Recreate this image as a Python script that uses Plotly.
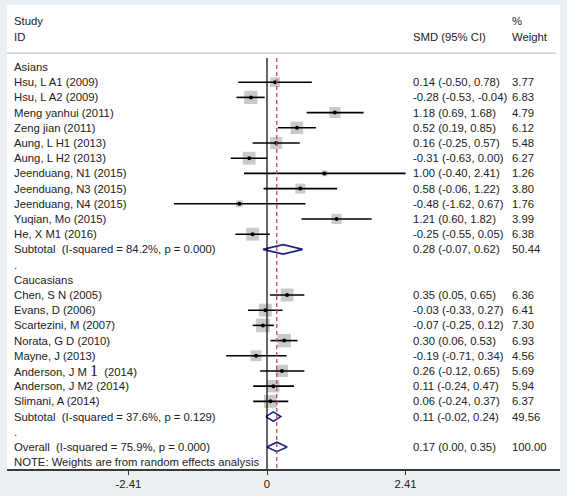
import plotly.graph_objects as go

# ---------------- data ----------------
asian_ids = ["Hsu, L A1 (2009)", "Hsu, L A2 (2009)", "Meng yanhui (2011)", "Zeng jian (2011)",
             "Aung, L H1 (2013)", "Aung, L H2 (2013)", "Jeenduang, N1 (2015)", "Jeenduang, N3 (2015)",
             "Jeenduang, N4 (2015)", "Yuqian, Mo (2015)", "He, X M1 (2016)"]
asian_smd = [0.14, -0.28, 1.18, 0.52, 0.16, -0.31, 1.00, 0.58, -0.48, 1.21, -0.25]
asian_lo = [-0.50, -0.53, 0.69, 0.19, -0.25, -0.63, -0.40, -0.06, -1.62, 0.60, -0.55]
asian_hi = [0.78, -0.04, 1.68, 0.85, 0.57, 0.00, 2.41, 1.22, 0.67, 1.82, 0.05]
asian_w = [3.77, 6.83, 4.79, 6.12, 5.48, 6.27, 1.26, 3.80, 1.76, 3.99, 6.38]

cauc_ids = ["Chen, S N (2005)", "Evans, D (2006)", "Scartezini, M (2007)", "Norata, G D (2010)",
            "Mayne, J (2013)",
            "Anderson, J M <span style='font-family:Liberation Serif, serif;font-size:16px'>1</span>  (2014)",
            "Anderson, J M2 (2014)", "Slimani, A (2014)"]
cauc_smd = [0.35, -0.03, -0.07, 0.30, -0.19, 0.26, 0.11, 0.06]
cauc_lo = [0.05, -0.33, -0.25, 0.06, -0.71, -0.12, -0.24, -0.24]
cauc_hi = [0.65, 0.27, 0.12, 0.53, 0.34, 0.65, 0.47, 0.37]
cauc_w = [6.36, 6.41, 7.30, 6.93, 4.56, 5.69, 5.94, 6.37]

pooled_labels = ["Subtotal  (I-squared = 84.2%, p = 0.000)",
                 "Subtotal  (I-squared = 37.6%, p = 0.129)",
                 "Overall  (I-squared = 75.9%, p = 0.000)"]
pooled_smd = [0.28, 0.11, 0.17]
pooled_lo = [-0.07, -0.02, 0.00]
pooled_hi = [0.62, 0.24, 0.35]
pooled_w = [50.44, 49.56, 100.00]

group_names = ["Asians", "Caucasians"]
tick_vals = [-2.41, 0, 2.41]
tick_text = ["-2.41", "0", "2.41"]
note_text = "NOTE: Weights are from random effects analysis"

# ---------------- layout of rows ----------------
FONT = "Arial, Liberation Sans, sans-serif"
TXT = "#222222"
BG = "#e9eff3"
study_rows = []  # (row, label, est, lo, hi, w)
text_rows = []   # (row, text)
r = 0
text_rows.append((r, group_names[0])); r += 1
for i in range(len(asian_ids)):
    study_rows.append((r, asian_ids[i], asian_smd[i], asian_lo[i], asian_hi[i], asian_w[i])); r += 1
pooled_rows = [r]; r += 1
text_rows.append((r, ".")); r += 1
text_rows.append((r, group_names[1])); r += 1
for i in range(len(cauc_ids)):
    study_rows.append((r, cauc_ids[i], cauc_smd[i], cauc_lo[i], cauc_hi[i], cauc_w[i])); r += 1
pooled_rows.append(r); r += 1
text_rows.append((r, ".")); r += 1
pooled_rows.append(r); r += 1
text_rows.append((r, note_text))

fig = go.Figure()

ys = [s[0] for s in study_rows]
est = [s[2] for s in study_rows]
lo = [s[3] for s in study_rows]
hi = [s[4] for s in study_rows]
w = [s[5] for s in study_rows]

# grey weight squares
fig.add_trace(go.Scatter(
    x=est, y=ys, mode="markers",
    marker=dict(symbol="square", size=[5.1 * (v ** 0.5) for v in w], color="#b3b3b3", line=dict(width=0)),
    hoverinfo="skip", showlegend=False))
# CI lines + point estimate
fig.add_trace(go.Scatter(
    x=est, y=ys, mode="markers",
    marker=dict(symbol="circle", size=4, color="black"),
    error_x=dict(type="data", symmetric=False,
                 array=[h - e for h, e in zip(hi, est)],
                 arrayminus=[e - l for e, l in zip(est, lo)],
                 width=0, thickness=1.6, color="black"),
    hoverinfo="skip", showlegend=False))

# pooled diamonds
for k, row in enumerate(pooled_rows):
    e, l, h = pooled_smd[k], pooled_lo[k], pooled_hi[k]
    d = 0.31
    fig.add_trace(go.Scatter(
        x=[l, e, h, e, l], y=[row, row - d, row, row + d, row],
        mode="lines", line=dict(color="#1c2485", width=1.6),
        hoverinfo="skip", showlegend=False))

# ---------------- text ----------------
def px2paper(px):
    return (px - 7) / 553.0

LX, SX, WX = px2paper(12), px2paper(411), px2paper(510)

ann = []
def add(x, y, t):
    ann.append(dict(x=x, y=y, xref="paper", yref="y", text=t, showarrow=False,
                    xanchor="left", yanchor="middle", font=dict(family=FONT, size=11.3, color=TXT)))

add(LX, -3, "Study")
add(LX, -2, "ID")
add(SX, -2, "SMD (95% CI)")
add(WX, -3, "%")
add(WX, -2, "Weight")
for (row, t) in text_rows:
    add(LX, row, t)
for s in study_rows:
    add(LX, s[0], s[1])
    add(SX, s[0], f"{s[2]:.2f} ({s[3]:.2f}, {s[4]:.2f})")
    add(WX, s[0], f"{s[5]:.2f}")
for k, row in enumerate(pooled_rows):
    add(LX, row, pooled_labels[k])
    add(SX, row, f"{pooled_smd[k]:.2f} ({pooled_lo[k]:.2f}, {pooled_hi[k]:.2f})")
    add(WX, row, f"{pooled_w[k]:.2f}")

Y_TOP, Y_BOT = -4.08, 26.45
shapes = [
    dict(type="line", xref="paper", yref="y", x0=0, x1=px2paper(556), y0=-0.9, y1=-0.9,
         line=dict(color="#cfcfcf", width=1.5)),
    dict(type="line", xref="x", yref="y", x0=0, x1=0, y0=-0.6, y1=Y_BOT,
         line=dict(color="black", width=1.2)),
    dict(type="line", xref="x", yref="y", x0=pooled_smd[2], x1=pooled_smd[2], y0=-0.6, y1=Y_BOT,
         line=dict(color="#b5505c", width=1.3, dash="4px,3px")),
]

fig.update_layout(
    width=567, height=496,
    margin=dict(l=7, r=7, t=5, b=27),
    paper_bgcolor=BG, plot_bgcolor="white",
    annotations=ann, shapes=shapes,
    xaxis=dict(range=[(7 - 267) / 57.5, (560 - 267) / 57.5], tickvals=tick_vals, ticktext=tick_text,
               showgrid=False, zeroline=False, showline=True, linecolor="#3a3a3a", linewidth=1.5,
               ticks="outside", ticklen=4, tickcolor="#3a3a3a",
               tickfont=dict(family=FONT, size=11.3, color=TXT), fixedrange=True),
    yaxis=dict(range=[Y_BOT, Y_TOP], showgrid=False, zeroline=False, showticklabels=False,
               showline=False, fixedrange=True),
)

fig.write_html("out.html", config={"displayModeBar": False},
               post_script="document.body.style.margin='0';document.body.style.background='%s';"
                           "document.body.style.overflow='hidden';" % BG)
